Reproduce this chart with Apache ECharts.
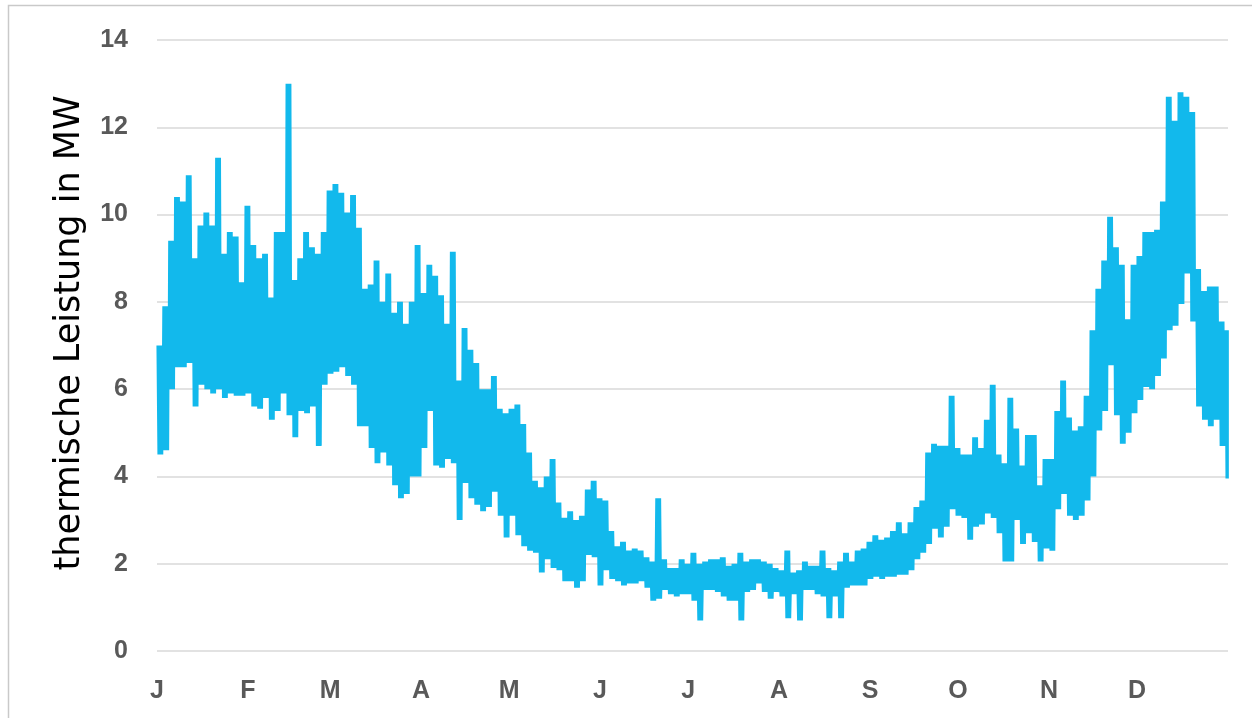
<!DOCTYPE html>
<html>
<head>
<meta charset="utf-8">
<script src="https://cdn.jsdelivr.net/npm/echarts@6/dist/echarts.min.js"></script>
<style>
html,body{margin:0;padding:0;background:#fff;}
#chart{width:1252px;height:718px;}
</style>
</head>
<body>
<div id="chart"></div>
<script>
// Month labels and their start day (day-of-year)
const monthLabels = ['J','F','M','A','M','J','J','A','S','O','N','D'];
const monthStarts = [0,31,59,90,120,151,181,212,243,273,304,334];
const yTicks = [0,2,4,6,8,10,12,14];
const yTitle = 'thermische Leistung in MW';

// Two-day blocks: upper and lower envelope (MW)
const blockHigh = [
  7.0, 7.9, 9.4, 10.4, 10.3, 10.9, 9.0, 9.75, 10.05, 9.75, 11.3, 9.1, 9.6, 9.5, 8.45, 10.2,
  9.3, 9.0, 9.1, 8.1, 9.6, 9.6, 13.0, 8.5, 9.0, 9.6, 9.25, 9.1, 9.6, 10.55, 10.7, 10.5,
  10.05, 10.45, 9.7, 8.3, 8.4, 8.95, 8.0, 8.65, 7.75, 8.0, 7.5, 8.0, 9.3, 8.2, 8.85, 8.6, 8.15, 7.5,
  9.15, 6.2, 7.4, 6.9, 6.6, 6.0, 6.0, 6.3, 5.55, 5.45, 5.55, 5.65, 5.2, 4.55, 3.9, 3.75, 4.0,
  4.4, 3.4, 3.05, 3.2, 3.0, 3.1, 3.7, 3.9, 3.5, 3.45, 2.75, 2.4, 2.5, 2.3, 2.35, 2.3, 2.15,
  2.05, 3.5, 2.1, 1.9, 1.9, 2.1, 2.0, 2.25, 2.0, 2.05, 2.1, 2.1, 2.15, 1.95, 2.0, 2.25, 2.05,
  2.1, 2.1, 2.05, 2.0, 1.9, 1.85, 2.3, 1.8, 1.85, 2.05, 1.95, 1.95, 2.3, 1.9, 1.85, 2.05, 2.25,
  2.05, 2.3, 2.35, 2.5, 2.65, 2.55, 2.6, 2.75, 2.95, 2.7, 2.95, 3.3, 3.45, 4.55, 4.75, 4.7, 4.7,
  5.85, 4.65, 4.5, 4.5, 4.9, 4.65, 5.3, 6.1, 4.5, 4.3, 5.8, 5.1, 4.25, 4.95, 4.95, 3.8, 4.4,
  4.4, 5.5, 6.2, 5.35, 5.05, 5.15, 5.85, 7.35, 8.3, 8.95, 9.95, 9.25, 8.85, 7.6, 8.85, 9.05, 9.6,
  9.6, 9.65, 10.3, 12.7, 12.15, 12.8, 12.7, 12.35, 8.75, 8.25, 8.35, 8.35, 7.55, 7.35
];
const blockLow = [
  4.5, 4.6, 6.0, 6.5, 6.5, 6.6, 5.6, 6.1, 6.0, 5.9, 6.0, 5.8, 5.9, 5.85, 5.85, 5.9,
  5.6, 5.55, 5.8, 5.3, 5.5, 5.9, 5.4, 4.9, 5.5, 5.45, 5.6, 4.7, 6.1, 6.35, 6.4, 6.5,
  6.3, 6.1, 5.15, 5.15, 4.65, 4.3, 4.55, 4.25, 3.8, 3.5, 3.6, 4.0, 4.0, 4.65, 5.5, 4.25, 4.2, 4.4,
  4.3, 3.0, 3.85, 3.5, 3.35, 3.2, 3.3, 3.65, 3.1, 2.6, 3.1, 2.65, 2.4, 2.3, 2.25, 1.8, 2.1,
  1.9, 1.85, 1.6, 1.6, 1.45, 1.6, 2.2, 2.15, 1.5, 1.85, 1.65, 1.6, 1.5, 1.55, 1.55, 1.6, 1.45,
  1.15, 1.2, 1.4, 1.3, 1.25, 1.3, 1.3, 1.15, 0.7, 1.4, 1.4, 1.35, 1.25, 1.15, 1.15, 0.7, 1.35,
  1.4, 1.55, 1.35, 1.2, 1.35, 1.25, 0.75, 1.3, 0.7, 1.4, 1.4, 1.3, 1.25, 0.75, 1.25, 0.75, 1.45,
  1.5, 1.5, 1.5, 1.65, 1.7, 1.65, 1.7, 1.7, 1.75, 1.75, 1.85, 2.1, 2.25, 2.45, 2.8, 2.6, 2.85,
  3.25, 3.1, 3.05, 2.55, 2.85, 2.9, 3.15, 3.05, 2.7, 2.05, 2.05, 3.0, 2.45, 2.7, 2.5, 2.05, 2.35,
  2.3, 3.25, 3.6, 3.1, 3.0, 3.1, 3.45, 4.0, 5.05, 5.5, 6.55, 5.4, 4.75, 5.0, 5.45, 5.75, 6.05,
  6.0, 6.3, 6.7, 7.35, 7.45, 7.95, 8.65, 7.55, 5.6, 5.3, 5.15, 5.3, 4.7, 3.95
];

// Each 2-day block is drawn as repeated strokes between its read high and low
const strokeOffsets = [0.15, 0.48, 0.81, 1.14, 1.47, 1.8];
const seriesData = [];
for (let k = 0; k < blockHigh.length; k++) {
  const base = 2 * k;
  strokeOffsets.forEach((off, j) => {
    const x = Math.min(base + off, 364.95);
    seriesData.push([x, j % 2 === 0 ? blockHigh[k] : blockLow[k]]);
  });
}

const chart = echarts.init(document.getElementById('chart'), null, {renderer: 'canvas'});
const labelColor = '#595959';
chart.setOption({
  animation: false,
  backgroundColor: '#ffffff',
  graphic: [{
    type: 'rect', silent: true, z: -1,
    shape: {x: 8.5, y: 5.5, width: 1300, height: 800},
    style: {fill: 'none', stroke: '#c9c9c9', lineWidth: 1.5}
  }, {
    type: 'text', silent: true,
    x: 70, y: 333, rotation: Math.PI / 2,
    style: {
      text: yTitle, fill: '#000', fontSize: 35, fontFamily: 'DejaVu Sans',
      align: 'center', verticalAlign: 'middle'
    }
  }],
  grid: {left: 157, right: 24, top: 40, bottom: 67, containLabel: false},
  xAxis: {
    type: 'value', min: 0, max: 365,
    axisLine: {show: false}, axisTick: {show: false}, splitLine: {show: false},
    axisLabel: {
      customValues: monthStarts,
      formatter: v => monthLabels[monthStarts.indexOf(v)] || '',
      color: labelColor, fontSize: 25, fontWeight: 'bold',
      fontFamily: 'Liberation Sans', margin: 28
    }
  },
  yAxis: {
    type: 'value', min: 0, max: 14, interval: 2,
    axisLine: {show: false}, axisTick: {show: false},
    splitLine: {lineStyle: {color: '#d9d9d9', width: 1.5}},
    axisLabel: {
      formatter: v => (yTicks.indexOf(v) >= 0 ? String(v) : ''),
      color: labelColor, fontSize: 25, fontWeight: 'bold',
      fontFamily: 'Liberation Sans', margin: 29
    }
  },
  series: [{
    type: 'line', data: seriesData, showSymbol: false, symbol: 'none',
    lineStyle: {color: '#12b9ec', width: 2}, sampling: null
  }]
});
</script>
</body>
</html>
